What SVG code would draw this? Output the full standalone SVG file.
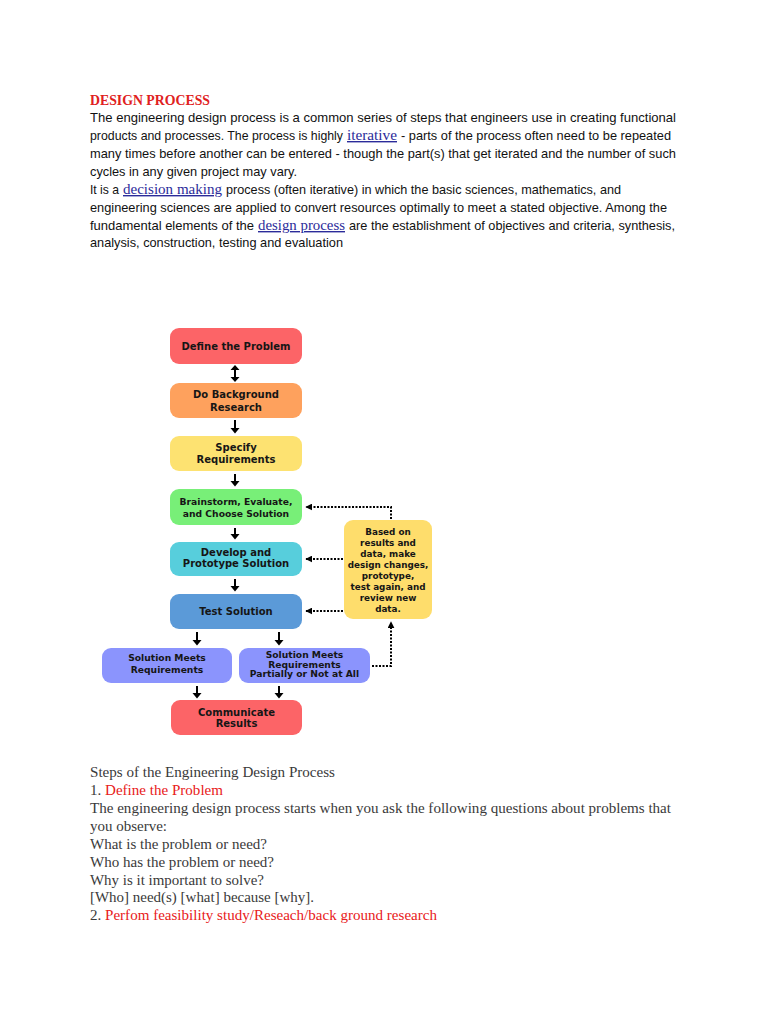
<svg xmlns="http://www.w3.org/2000/svg" width="768" height="1024" viewBox="0 0 768 1024">
<defs>
<style>
.body{font-family:"Liberation Sans",Arial,sans-serif;font-size:13px;fill:#111}
.lnk{font-family:"Liberation Serif","Times New Roman",serif;font-size:14px;fill:#2b2b9a;text-decoration:underline}
.serif{font-family:"Liberation Serif","Times New Roman",serif;font-size:14.5px;fill:#3a3a3a}
.red{fill:#e82020}
.bx{font-family:"DejaVu Sans",Verdana,sans-serif;font-weight:bold;font-size:10px;fill:#161616;text-anchor:middle}
.sm{font-size:9.2px}
.xs{font-size:8.8px}
.arr{stroke:#000;stroke-width:2;fill:none}
.hd{fill:#000}
.dot{stroke:#000;stroke-width:2;fill:none;stroke-dasharray:2 1.5}
</style>
<marker id="ah2" viewBox="0 0 10 10" refX="9" refY="5" markerWidth="3.5" markerHeight="3.5" orient="auto" markerUnits="strokeWidth">
<path d="M0,0 L10,5 L0,10 z" fill="#000"/>
</marker>
</defs>
<rect width="768" height="1024" fill="#fff"/>

<g id="intro">
<text x="90" y="105" font-family="Liberation Serif,serif" font-weight="bold" font-size="14" fill="#e02020" textLength="120" lengthAdjust="spacingAndGlyphs">DESIGN PROCESS</text>
<text class="body" x="90" y="122" textLength="586" lengthAdjust="spacingAndGlyphs">The engineering design process is a common series of steps that engineers use in creating functional</text>
<text class="body" x="90" y="140" style="font-size:12.2px" textLength="253" lengthAdjust="spacingAndGlyphs">products and processes. The process is highly</text>
<text class="lnk" x="347" y="140" textLength="50" lengthAdjust="spacingAndGlyphs">iterative</text>
<text class="body" x="401" y="140" textLength="270" lengthAdjust="spacingAndGlyphs">- parts of the process often need to be repeated</text>
<text class="body" x="90" y="158" textLength="586" lengthAdjust="spacingAndGlyphs">many times before another can be entered - though the part(s) that get iterated and the number of such</text>
<text class="body" x="90" y="176" textLength="207" lengthAdjust="spacingAndGlyphs">cycles in any given project may vary.</text>
<text class="body" x="90" y="194" textLength="29" lengthAdjust="spacingAndGlyphs">It is a</text>
<text class="lnk" x="123" y="194" textLength="99" lengthAdjust="spacingAndGlyphs">decision making</text>
<text class="body" x="226" y="194" textLength="395" lengthAdjust="spacingAndGlyphs">process (often iterative) in which the basic sciences, mathematics, and</text>
<text class="body" x="90" y="212" textLength="577" lengthAdjust="spacingAndGlyphs">engineering sciences are applied to convert resources optimally to meet a stated objective. Among the</text>
<text class="body" x="90" y="230" textLength="164" lengthAdjust="spacingAndGlyphs">fundamental elements of the</text>
<text class="lnk" x="258" y="230" textLength="87" lengthAdjust="spacingAndGlyphs">design process</text>
<text class="body" x="349" y="230" textLength="326" lengthAdjust="spacingAndGlyphs">are the establishment of objectives and criteria, synthesis,</text>
<text class="body" x="90" y="247" textLength="253" lengthAdjust="spacingAndGlyphs">analysis, construction, testing and evaluation</text>
</g>

<g id="connectors">
<line class="arr" x1="235" y1="369" x2="235" y2="378"/>
<path class="hd" d="M230.5,370 L235,365 L239.5,370 z M230.5,377 L235,382 L239.5,377 z"/>
<line class="arr" x1="235" y1="420" x2="235" y2="429"/>
<path class="hd" d="M230.5,428 L235,433.5 L239.5,428 z"/>
<line class="arr" x1="235" y1="474" x2="235" y2="482"/>
<path class="hd" d="M230.5,481 L235,486.5 L239.5,481 z"/>
<line class="arr" x1="235" y1="528" x2="235" y2="535"/>
<path class="hd" d="M230.5,534 L235,539.5 L239.5,534 z"/>
<line class="arr" x1="235" y1="579" x2="235" y2="587"/>
<path class="hd" d="M230.5,586 L235,591.5 L239.5,586 z"/>
<line class="arr" x1="197" y1="632" x2="197" y2="641"/>
<path class="hd" d="M192.5,640 L197,645.5 L201.5,640 z"/>
<line class="arr" x1="279" y1="632" x2="279" y2="641"/>
<path class="hd" d="M274.5,640 L279,645.5 L283.5,640 z"/>
<line class="arr" x1="197" y1="686" x2="197" y2="694"/>
<path class="hd" d="M192.5,693 L197,698.5 L201.5,693 z"/>
<line class="arr" x1="279" y1="686" x2="279" y2="694"/>
<path class="hd" d="M274.5,693 L279,698.5 L283.5,693 z"/>
<path class="dot" d="M391,519 V507 H306" marker-end="url(#ah2)"/>
<path class="dot" d="M343,559 H306" marker-end="url(#ah2)"/>
<path class="dot" d="M343,611 H306" marker-end="url(#ah2)"/>
<path class="dot" d="M372,666 H391 V622" marker-end="url(#ah2)"/>
</g>

<g id="define">
<rect x="170" y="328" width="132" height="36" rx="9" fill="#fc6467"/>
<text class="bx" x="236" y="350">Define the Problem</text>
</g>
<g id="background">
<rect x="170" y="383" width="132" height="35" rx="9" fill="#fea15d"/>
<text class="bx" x="236" y="398">Do Background</text>
<text class="bx" x="236" y="411">Research</text>
</g>
<g id="specify">
<rect x="170" y="436" width="132" height="35" rx="9" fill="#fde271"/>
<text class="bx" x="236" y="450.5">Specify</text>
<text class="bx" x="236" y="463">Requirements</text>
</g>
<g id="brainstorm">
<rect x="170" y="489" width="132" height="36" rx="9" fill="#78ef78"/>
<text class="bx sm" x="236" y="505">Brainstorm, Evaluate,</text>
<text class="bx sm" x="236" y="516.5">and Choose Solution</text>
</g>
<g id="develop">
<rect x="170" y="542" width="132" height="34" rx="9" fill="#57cedc"/>
<text class="bx" x="236" y="555.5">Develop and</text>
<text class="bx" x="236" y="567">Prototype Solution</text>
</g>
<g id="test">
<rect x="170" y="594" width="132" height="35" rx="9" fill="#5b9ad8"/>
<text class="bx" x="236" y="614.5">Test Solution</text>
</g>
<g id="meets">
<rect x="102" y="648" width="130" height="35" rx="9" fill="#8b94fd"/>
<text class="bx sm" x="167" y="661">Solution Meets</text>
<text class="bx sm" x="167" y="673">Requirements</text>
</g>
<g id="partial">
<rect x="239" y="648" width="131" height="35" rx="9" fill="#8b94fd"/>
<text class="bx sm" x="304.5" y="658">Solution Meets</text>
<text class="bx sm" x="304.5" y="667.5">Requirements</text>
<text class="bx sm" x="304.5" y="677">Partially or Not at All</text>
</g>
<g id="communicate">
<rect x="171" y="700" width="131" height="35" rx="9" fill="#fc6467"/>
<text class="bx" x="236.5" y="715.5">Communicate</text>
<text class="bx" x="236.5" y="727">Results</text>
</g>
<g id="feedback">
<rect x="344" y="520" width="88" height="99" rx="9" fill="#fedd6c"/>
<text class="bx xs" x="388" y="535">Based on</text>
<text class="bx xs" x="388" y="546">results and</text>
<text class="bx xs" x="388" y="557">data, make</text>
<text class="bx xs" x="388" y="568">design changes,</text>
<text class="bx xs" x="388" y="579">prototype,</text>
<text class="bx xs" x="388" y="590">test again, and</text>
<text class="bx xs" x="388" y="601">review new</text>
<text class="bx xs" x="388" y="612">data.</text>
</g>

<g id="steps">
<text class="serif" x="90" y="777" textLength="245" lengthAdjust="spacingAndGlyphs">Steps of the Engineering Design Process</text>
<text class="serif" x="90" y="795" textLength="133" lengthAdjust="spacingAndGlyphs">1. <tspan class="red">Define the Problem</tspan></text>
<text class="serif" x="90" y="813" textLength="581" lengthAdjust="spacingAndGlyphs">The engineering design process starts when you ask the following questions about problems that</text>
<text class="serif" x="90" y="831" textLength="77" lengthAdjust="spacingAndGlyphs">you observe:</text>
<text class="serif" x="90" y="849" textLength="177" lengthAdjust="spacingAndGlyphs">What is the problem or need?</text>
<text class="serif" x="90" y="867" textLength="184" lengthAdjust="spacingAndGlyphs">Who has the problem or need?</text>
<text class="serif" x="90" y="885" textLength="174" lengthAdjust="spacingAndGlyphs">Why is it important to solve?</text>
<text class="serif" x="90" y="902" textLength="224" lengthAdjust="spacingAndGlyphs">[Who] need(s) [what] because [why].</text>
<text class="serif" x="90" y="920" textLength="347" lengthAdjust="spacingAndGlyphs">2. <tspan class="red">Perfom feasibility study/Reseach/back ground research</tspan></text>
</g>
</svg>
